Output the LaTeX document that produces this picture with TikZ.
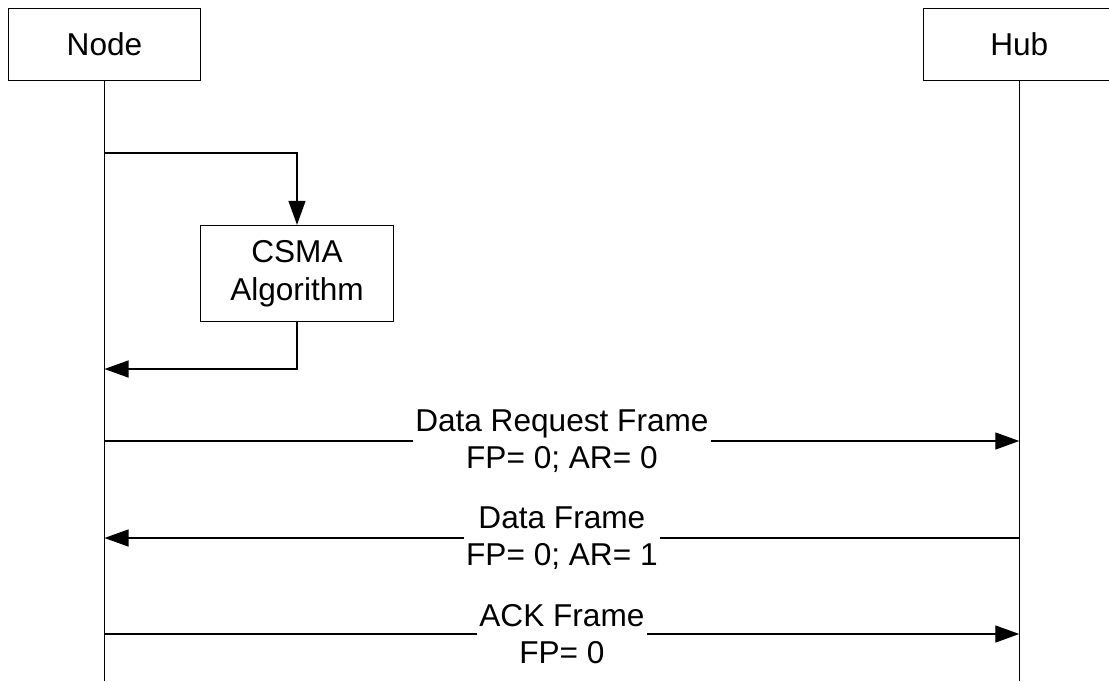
\documentclass[tikz,border=0pt]{standalone}
\usepackage{fontspec}
\setmainfont{Liberation Sans}
\usetikzlibrary{arrows.meta}
\begin{document}
\begin{tikzpicture}[x=1pt,y=-1pt,
  line width=1.3pt,
  every node/.style={font=\fontsize{31.6}{37.5}\selectfont},
  actor/.style={draw, minimum width=192pt, minimum height=72pt, inner sep=0pt},
  procbox/.style={draw, minimum width=193pt, minimum height=96pt, inner sep=0pt, align=center},
  msg/.style={-{Triangle[length=24pt,width=17pt]}},
  msglabel/.style={fill=white, inner sep=2.5pt, align=center}]
\clip (0,0) rectangle (1109,681);

% participants
\node[actor] (nodebox) at (104.5,44.5) {Node};
\node[actor] (hubbox) at (1019.3,44.5) {Hub};
\coordinate (nodeend) at (104.5,681);
\coordinate (hubend) at (1019.3,681);
\draw (nodebox.south) -- (nodeend);
\draw (hubbox.south) -- (hubend);

% local CSMA processing
\node[procbox] (csma) at (297,273.5) {CSMA\\Algorithm};
\coordinate (loopout) at (104.5,153);
\coordinate (loopin) at (104.5,369);
\draw[msg] (loopout) -| (csma.north);
\draw[msg] (csma.south) |- (loopin);

% frame exchange
\coordinate (n1) at (104.5,441);
\coordinate (h1) at (1019.3,441);
\coordinate (n2) at (104.5,538);
\coordinate (h2) at (1019.3,538);
\coordinate (n3) at (104.5,634);
\coordinate (h3) at (1019.3,634);

\draw[msg] (n1) -- node[msglabel] (m1) {Data Request Frame\\FP= 0; AR= 0} (h1);
\draw[msg] (h2) -- node[msglabel] (m2) {Data Frame\\FP= 0; AR= 1} (n2);
\draw[msg] (n3) -- node[msglabel] (m3) {ACK Frame\\FP= 0} (h3);
\end{tikzpicture}
\end{document}
